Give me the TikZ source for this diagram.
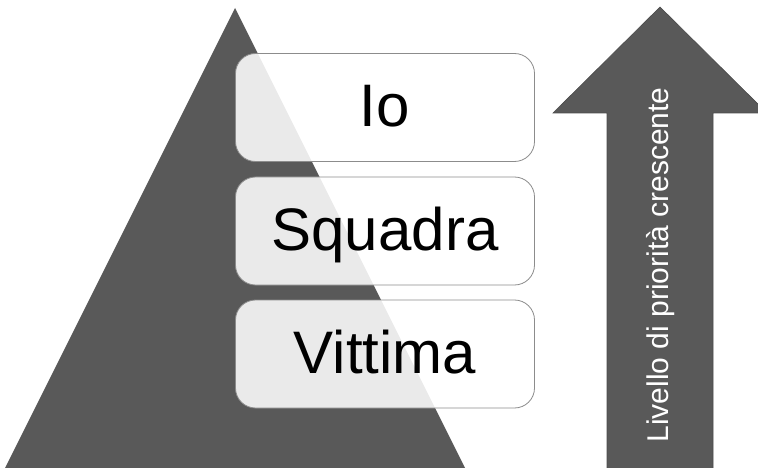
\documentclass[tikz,border=0pt]{standalone}
\usepackage{fontspec}
\setmainfont{Liberation Sans}
\begin{document}
\begin{tikzpicture}[x=1pt,y=-1pt,
  shade/.style={fill=black!65},
  level/.style={draw=black!45, line width=0.8pt, fill=white, fill opacity=0.88,
    text opacity=1, rounded corners=20pt, minimum width=299pt, minimum height=108pt,
    font=\fontsize{60}{60}\selectfont, inner sep=0pt, text height=43pt, text depth=5pt},
  arrowlabel/.style={text=white, rotate=90, font=\fontsize{30}{30}\selectfont, inner sep=0pt}]
  \useasboundingbox (0,0) rectangle (758,468);
  \clip (0,0) rectangle (758,468);
  % pyramid
  \path[shade] (5,468) -- (235,8) -- (465,468) -- cycle;
  % priority levels
  \node[level] (io) at (385,107.5) {Io};
  \node[level] (squadra) at (385,231) {Squadra};
  \node[level] (vittima) at (385,354) {Vittima};
  % upward arrow
  \path[shade, draw=black!70, line width=0.6pt]
    (607,470) -- (607,113) -- (553,113) -- (660,7) -- (767,113) -- (713,113) -- (713,470) -- cycle;
  \node[arrowlabel] (label) at (661,265) {Livello di priorità crescente};
\end{tikzpicture}
\end{document}
